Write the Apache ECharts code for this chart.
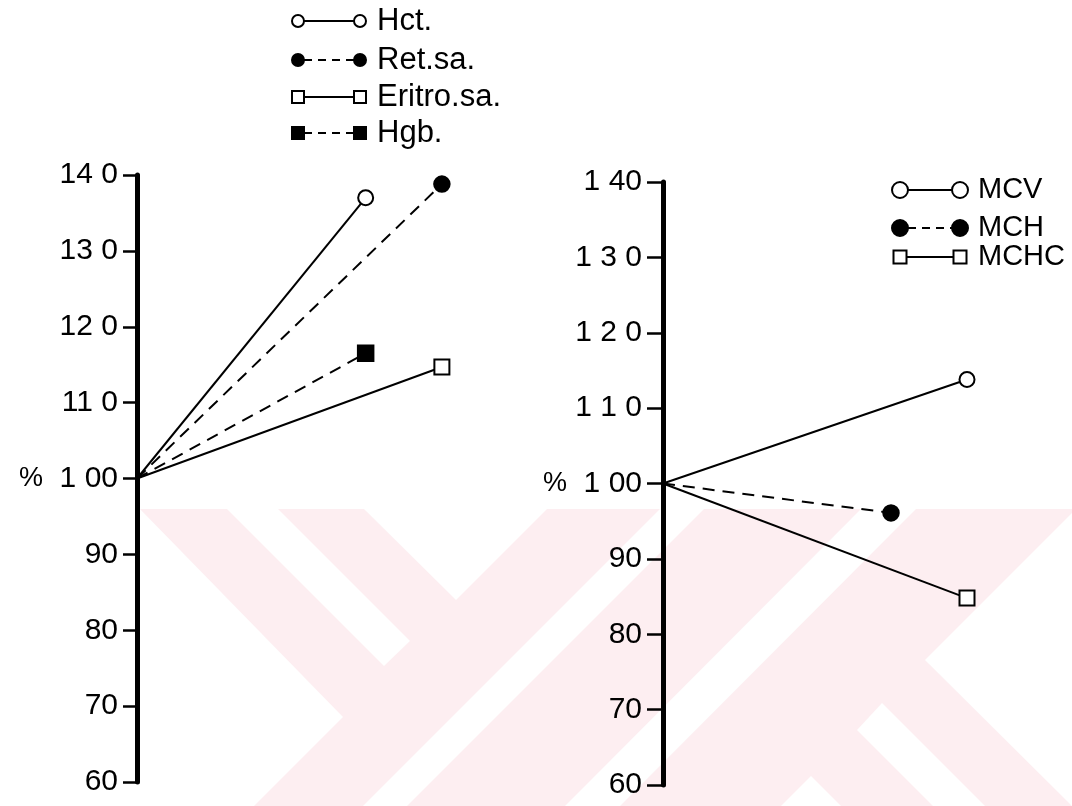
<!DOCTYPE html>
<html>
<head>
<meta charset="utf-8">
<script src="https://cdn.jsdelivr.net/npm/echarts@6/dist/echarts.min.js"></script>
<style>
  html, body { margin: 0; padding: 0; background: #fff; }
  #chart { width: 1072px; height: 806px; }
</style>
</head>
<body>
<div id="chart"></div>
<script>
// Percent scale shared by both panels
const yTicks = [60, 70, 80, 90, 100, 110, 120, 130, 140];
const leftTickLabels = ['60', '70', '80', '90', '{p|%}  1 00', '11 0', '12 0', '13 0', '14 0'];
const rightTickLabels = ['60', '70', '80', '90', '{p|%}  1 00', '1 1 0', '1 2 0', '1 3 0', '1 40'];

// Every line starts from the 100 % baseline on the axis
const baseX = 0;
const baseValue = 100;

// Left panel
const leftNames = ['Hct.', 'Ret.sa.', 'Eritro.sa.', 'Hgb.'];
const leftEndX = [3, 4, 4, 3];
const leftEndValues = [137.0, 138.8, 114.7, 116.5];

// Right panel
const rightNames = ['MCV', 'MCH', 'MCHC'];
const rightEndX = [4, 3, 4];
const rightEndValues = [113.8, 96.1, 84.8];

// Marker / line style per series
const seriesLook = {
  'Hct.':       { shape: 'circle', filled: false, dashed: false },
  'Ret.sa.':    { shape: 'circle', filled: true,  dashed: true  },
  'Eritro.sa.': { shape: 'rect',   filled: false, dashed: false },
  'Hgb.':       { shape: 'rect',   filled: true,  dashed: true  },
  'MCV':        { shape: 'circle', filled: false, dashed: false },
  'MCH':        { shape: 'circle', filled: true,  dashed: true  },
  'MCHC':       { shape: 'rect',   filled: false, dashed: false }
};

const FONT = '"Liberation Sans", Arial, sans-serif';
const INK = '#000';

function echartsSymbol(look) {
  if (look.shape === 'circle') return look.filled ? 'circle' : 'emptyCircle';
  return look.filled ? 'rect' : 'emptyRect';
}

function makeSeries(names, endX, endValues, axisIndex) {
  return names.map((name, i) => {
    const look = seriesLook[name];
    return {
      type: 'line',
      name: name,
      xAxisIndex: axisIndex,
      yAxisIndex: axisIndex,
      data: [
        { value: [baseX, baseValue], symbol: 'none' },
        [endX[i], endValues[i]]
      ],
      symbol: echartsSymbol(look),
      symbolSize: 15,
      showAllSymbol: true,
      clip: false,
      silent: true,
      z: 5,
      lineStyle: { color: INK, width: 2, type: look.dashed ? [12, 8] : 'solid' },
      itemStyle: { color: INK, borderColor: INK, borderWidth: 2.5 }
    };
  });
}

function yAxisFor(gridIndex, labels, margin, tickLen) {
  return {
    type: 'value',
    gridIndex: gridIndex,
    min: 60, max: 140, interval: 10,
    axisLine: { show: true, onZero: false, lineStyle: { color: INK, width: 5 } },
    axisTick: { show: true, length: tickLen, lineStyle: { color: INK, width: 2.5 } },
    splitLine: { show: false },
    axisLabel: {
      color: INK,
      fontFamily: FONT,
      fontSize: 30,
      margin: margin,
      formatter: v => labels[yTicks.indexOf(v)],
      rich: { p: { fontSize: 27, fontFamily: FONT, color: INK } }
    }
  };
}

function xAxisFor(gridIndex) {
  return { type: 'value', gridIndex: gridIndex, min: 0, max: 4.5, show: false };
}

// Key drawn as plain shapes: marker, connecting stroke, marker, name
function keyRows(names, rowsY, x1, x2, textX, rCircle, rRect, fontSize) {
  const els = [];
  names.forEach((name, i) => {
    const look = seriesLook[name];
    const y = rowsY[i];
    const r = look.shape === 'circle' ? rCircle : rRect;
    els.push({
      type: 'line',
      shape: { x1: x1 + r, y1: y, x2: x2 - r, y2: y },
      style: { stroke: INK, lineWidth: 2, lineDash: look.dashed ? [8, 6] : null }
    });
    [x1, x2].forEach(cx => {
      const style = { fill: look.filled ? INK : '#fff', stroke: INK, lineWidth: 2 };
      if (look.shape === 'circle') {
        els.push({ type: 'circle', shape: { cx: cx, cy: y, r: r }, style: style });
      } else {
        els.push({ type: 'rect', shape: { x: cx - r, y: y - r, width: 2 * r, height: 2 * r }, style: style });
      }
    });
    els.push({
      type: 'text', x: textX, y: y,
      style: { text: name, font: fontSize + 'px ' + FONT, fill: INK, verticalAlign: 'middle', align: 'left' }
    });
  });
  return els;
}

// Faint background emblem behind the lower half of the page
const PINK = '#fdeef1';
const emblem = [
  { pts: [[140, 509], [1072, 509], [1072, 806], [254, 806], [343, 717]], fill: PINK },
  { pts: [[227, 509], [278, 509], [410, 641], [384, 666]], fill: '#fff' },
  { pts: [[364, 509], [547, 509], [456, 600]], fill: '#fff' },
  { pts: [[363, 806], [407, 806], [704, 509], [660, 509]], fill: '#fff' },
  { pts: [[565, 806], [620, 806], [916, 509], [861, 509]], fill: '#fff' },
  { pts: [[781, 806], [841, 806], [811, 776]], fill: '#fff' },
  { pts: [[933, 806], [985, 806], [882, 703], [857, 730]], fill: '#fff' },
  { pts: [[925, 660], [1072, 513], [1072, 806]], fill: '#fff' }
].map(p => ({ type: 'polygon', z: -10, silent: true, shape: { points: p.pts }, style: { fill: p.fill } }));

const chart = echarts.init(document.getElementById('chart'), null, { renderer: 'canvas' });

chart.setOption({
  animation: false,
  backgroundColor: '#fff',
  grid: [
    { left: 137, top: 175, width: 343, height: 607 },
    { left: 663, top: 182, width: 342, height: 603 }
  ],
  xAxis: [xAxisFor(0), xAxisFor(1)],
  yAxis: [
    yAxisFor(0, leftTickLabels, 19, 14),
    yAxisFor(1, rightTickLabels, 21, 16)
  ],
  series: [
    ...makeSeries(leftNames, leftEndX, leftEndValues, 0),
    ...makeSeries(rightNames, rightEndX, rightEndValues, 1)
  ],
  graphic: [
    ...emblem,
    ...keyRows(leftNames, [21, 60, 97, 133], 298, 360, 377, 6, 6, 31),
    ...keyRows(rightNames, [190, 228, 257], 900, 960, 978, 8, 6.5, 29)
  ]
});
</script>
</body>
</html>
